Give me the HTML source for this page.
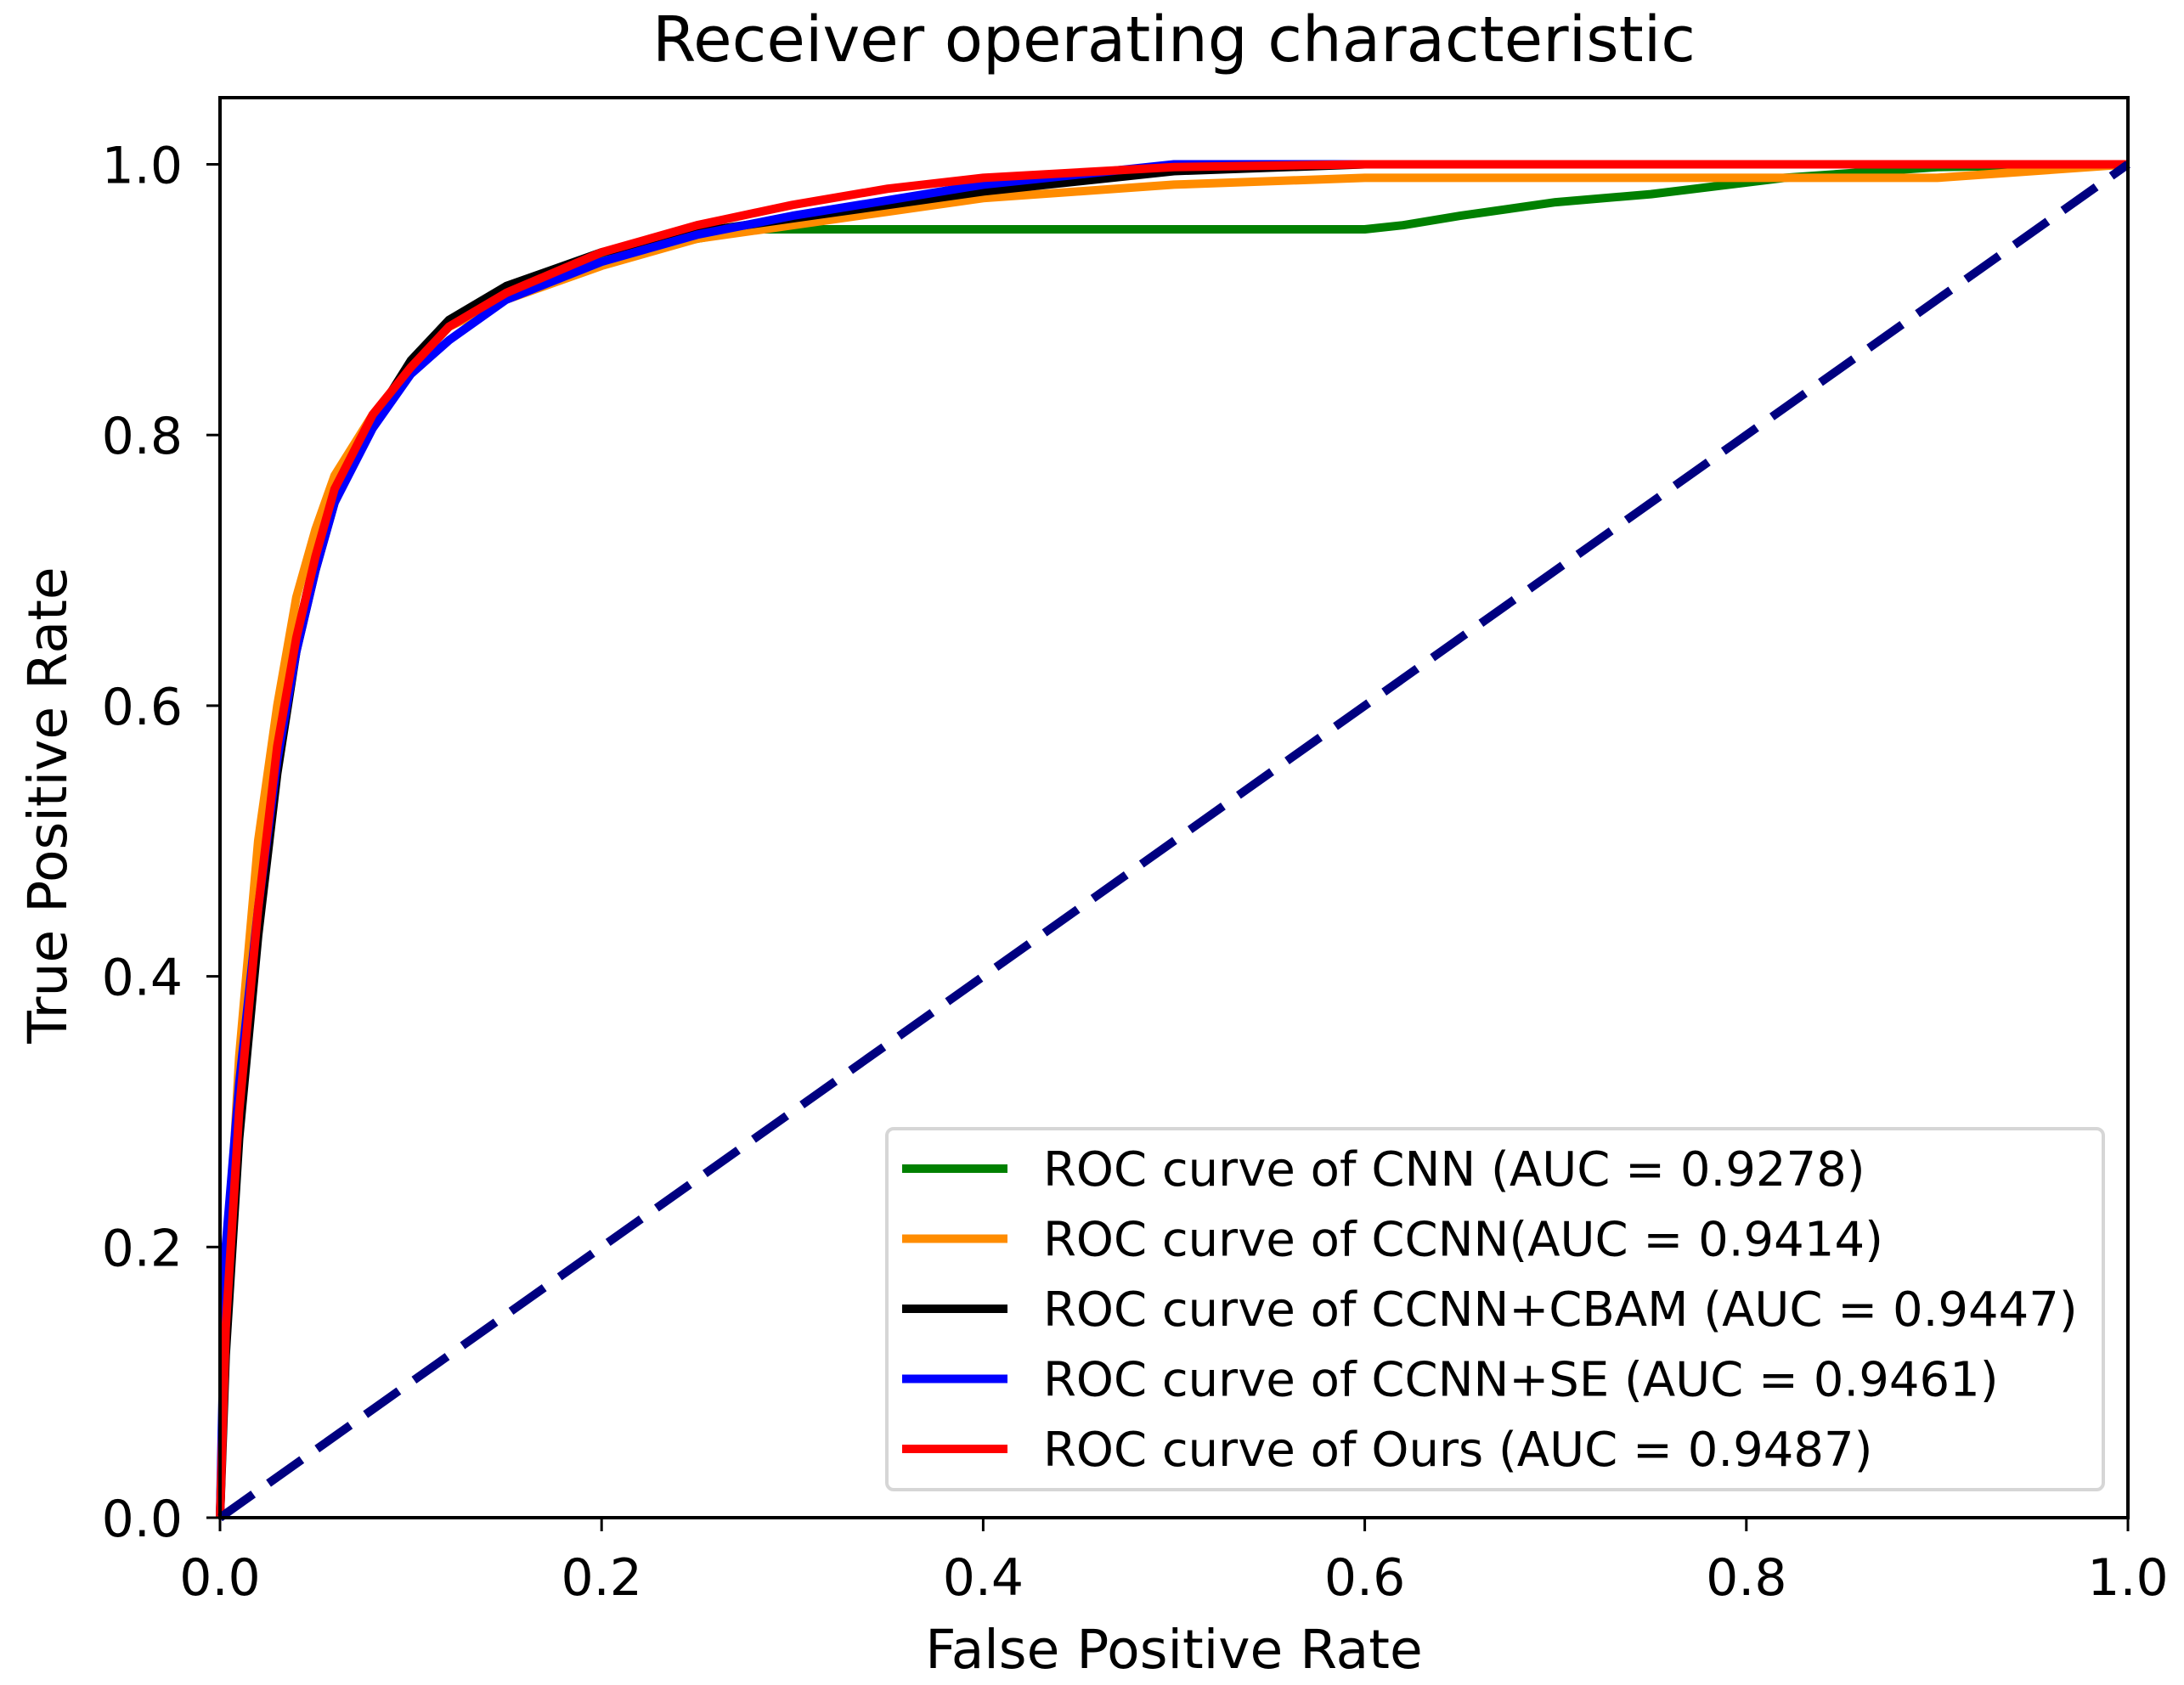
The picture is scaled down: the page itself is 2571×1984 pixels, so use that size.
<!DOCTYPE html>
<html><head><meta charset="utf-8"><style>
html,body{margin:0;padding:0;background:#fff}
svg{display:block}
text{font-family:"DejaVu Sans","Liberation Sans",sans-serif;fill:#000}
</style></head><body>
<svg id="chart" width="2571" height="1984" viewBox="0 0 2571 1984" xmlns="http://www.w3.org/2000/svg">
<text x="1382" y="72" font-size="74" text-anchor="middle">Receiver operating characteristic</text>
<g id="plot"></g>
<g id="axes"></g>
<text x="1382" y="1964" font-size="63" text-anchor="middle">False Positive Rate</text>
<text x="0" y="0" font-size="63" text-anchor="middle" transform="translate(78,948) rotate(-90)">True Positive Rate</text>
<g id="legend"></g>
</svg>
<script>
const xTicks=[0,0.2,0.4,0.6,0.8,1.0];
const yTicks=[0,0.2,0.4,0.6,0.8,1.0];
const tickLabels=["0.0","0.2","0.4","0.6","0.8","1.0"];
const seriesNames=["ROC curve of CNN (AUC = 0.9278)","ROC curve of CCNN(AUC = 0.9414)","ROC curve of CCNN+CBAM (AUC = 0.9447)","ROC curve of CCNN+SE (AUC = 0.9461)","ROC curve of Ours (AUC = 0.9487)"];
const seriesColors=["#008000","#ff8c00","#000000","#0000ff","#ff0000"];
const cnnFpr=[0,0.003,0.01,0.02,0.03,0.04,0.05,0.06,0.08,0.1,0.12,0.15,0.2,0.25,0.28,0.4,0.5,0.6,0.62,0.65,0.7,0.75,0.82,0.9,1.0];
const cnnTpr=[0,0.15,0.3,0.45,0.57,0.65,0.71,0.76,0.81,0.85,0.88,0.905,0.93,0.945,0.952,0.952,0.952,0.952,0.955,0.962,0.972,0.978,0.99,0.998,1.0];
const ccnnFpr=[0,0.003,0.01,0.02,0.03,0.04,0.05,0.06,0.08,0.1,0.12,0.15,0.2,0.25,0.3,0.4,0.5,0.6,0.9,1.0];
const ccnnTpr=[0,0.16,0.34,0.5,0.6,0.68,0.73,0.77,0.815,0.85,0.88,0.9,0.925,0.945,0.955,0.975,0.985,0.99,0.99,1.0];
const cbamFpr=[0,0.003,0.01,0.02,0.03,0.04,0.05,0.06,0.08,0.1,0.12,0.15,0.2,0.25,0.3,0.4,0.5,0.6,1.0];
const cbamTpr=[0,0.12,0.28,0.43,0.55,0.64,0.7,0.75,0.81,0.855,0.885,0.91,0.935,0.95,0.96,0.98,0.995,1.0,1.0];
const seFpr=[0,0.003,0.01,0.02,0.03,0.04,0.05,0.06,0.08,0.1,0.12,0.15,0.2,0.25,0.3,0.4,0.5,1.0];
const seTpr=[0,0.2,0.32,0.45,0.56,0.64,0.7,0.75,0.805,0.845,0.87,0.9,0.928,0.948,0.962,0.985,1.0,1.0];
const oursFpr=[0,0.003,0.01,0.02,0.03,0.04,0.05,0.06,0.08,0.1,0.12,0.15,0.2,0.25,0.3,0.35,0.4,0.5,0.6,1.0];
const oursTpr=[0,0.14,0.3,0.45,0.57,0.65,0.71,0.76,0.815,0.85,0.88,0.905,0.935,0.955,0.97,0.982,0.99,0.998,1.0,1.0];
const allFpr=[cnnFpr,ccnnFpr,cbamFpr,seFpr,oursFpr];
const allTpr=[cnnTpr,ccnnTpr,cbamTpr,seTpr,oursTpr];
const seriesKeys=["cnn","ccnn","ccnn-cbam","ccnn-se","ours"];

const NS="http://www.w3.org/2000/svg";
const X0=259,X1=2505,Y0=1787,Y1=193.5,TOP=115;
function sx(v){return X0+(X1-X0)*v;}
function sy(v){return Y0-(Y0-Y1)*v;}
function mk(tag,attrs,parent){const e=document.createElementNS(NS,tag);for(const k in attrs)e.setAttribute(k,attrs[k]);parent.appendChild(e);return e;}
const plot=document.getElementById('plot'),axes=document.getElementById('axes'),legend=document.getElementById('legend');

for(let s=0;s<allFpr.length;s++){
  const pts=allFpr[s].map((f,i)=>sx(f).toFixed(1)+','+sy(allTpr[s][i]).toFixed(1)).join(' ');
  const pl=mk('polyline',{points:pts,fill:'none',stroke:seriesColors[s],'stroke-width':10,'stroke-linejoin':'round'},plot);
  
  
}
const diag=mk('line',{x1:sx(0),y1:sy(0),x2:sx(1),y2:sy(1),stroke:'#000080','stroke-width':10,'stroke-dasharray':'48 22'},plot);



const frame=mk('rect',{x:X0,y:TOP,width:X1-X0,height:Y0-TOP,fill:'none',stroke:'#000','stroke-width':4},axes);


xTicks.forEach((v,i)=>{
  const t=mk('line',{x1:sx(v),y1:Y0,x2:sx(v),y2:Y0+16,stroke:'#000','stroke-width':3},axes);
  
  
  const l=mk('text',{x:sx(v),y:Y0+91,'font-size':60,'text-anchor':'middle'},axes);
  l.textContent=tickLabels[i];
  
  
});
yTicks.forEach((v,i)=>{
  const t=mk('line',{x1:X0-16,y1:sy(v),x2:X0,y2:sy(v),stroke:'#000','stroke-width':3},axes);
  
  
  const l=mk('text',{x:X0-44,y:sy(v)+22,'font-size':60,'text-anchor':'end'},axes);
  l.textContent=tickLabels[i];
  
  
});

const box=mk('rect',{x:1044,y:1329,width:1432,height:425,rx:8,fill:'#fff','fill-opacity':0.8,stroke:'#d6d6d6','stroke-width':4},legend);


seriesNames.forEach((n,i)=>{
  const y=1376+i*82.5;
  const h=mk('line',{x1:1062,y1:y,x2:1186,y2:y,stroke:seriesColors[i],'stroke-width':10},legend);
  
  
  const t=mk('text',{x:1228,y:y+20,'font-size':56},legend);
  t.textContent=n;
  
  
});
</script>
</body></html>
